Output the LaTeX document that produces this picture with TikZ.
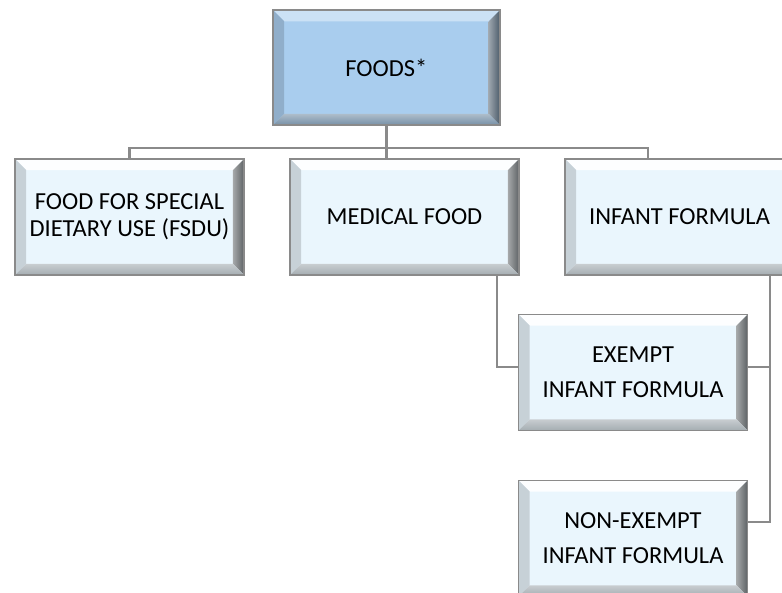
\documentclass[tikz,border=0pt]{standalone}
\usepackage{fontspec}
\setmainfont{Carlito}
\usepackage{tikz}
\usetikzlibrary{positioning,calc}
\definecolor{linegray}{HTML}{8A8A8A}
\definecolor{rootfill}{HTML}{A9CDEE}
\definecolor{leaffill}{HTML}{EAF6FD}
\tikzset{
  bevel/.style n args={4}{path picture={
    \fill[#1] (path picture bounding box.north west) -- (path picture bounding box.north east)
      -- ([shift={(-0.28,-0.28)}]path picture bounding box.north east)
      -- ([shift={(0.28,-0.28)}]path picture bounding box.north west) -- cycle;
    \fill[#2] (path picture bounding box.north west) -- ([shift={(0.28,-0.28)}]path picture bounding box.north west)
      -- ([shift={(0.28,0.28)}]path picture bounding box.south west) -- (path picture bounding box.south west) -- cycle;
    \shade[left color=#3!55, right color=#3] (path picture bounding box.north east) -- (path picture bounding box.south east)
      -- ([shift={(-0.28,0.28)}]path picture bounding box.south east)
      -- ([shift={(-0.28,-0.28)}]path picture bounding box.north east) -- cycle;
    \shade[top color=#4!60, bottom color=#4] (path picture bounding box.south west) -- ([shift={(0.28,0.28)}]path picture bounding box.south west)
      -- ([shift={(-0.28,0.28)}]path picture bounding box.south east) -- (path picture bounding box.south east) -- cycle;
  }},
  rootbox/.style={draw=linegray, line width=1pt, fill=rootfill, minimum width=5.675cm,
    minimum height=2.875cm, align=center, font=\fontsize{17.4}{19.4}\selectfont,
    bevel={rootfill!60!white}{rootfill!85!black}{rootfill!45!black}{rootfill!70!black}},
  leafbox/.style={draw=linegray, line width=1pt, fill=leaffill, minimum width=5.725cm,
    minimum height=2.9cm, align=center, font=\fontsize{17.4}{19.4}\selectfont,
    bevel={white!90!leaffill}{leaffill!85!black}{leaffill!40!black}{leaffill!70!black}},
  link/.style={draw=linegray, line width=1.8pt}
}
\begin{document}
\begin{tikzpicture}[line cap=rect]

    \useasboundingbox (0,0) rectangle (19.55,14.8);
    \clip (0,0) rectangle (19.55,14.8);

    \node[rootbox] (foods) at (9.66,13.11) {FOODS*};

    \node[leafbox] (fsdu) at (3.2375,9.375) {FOOD FOR SPECIAL\\DIETARY USE (FSDU)};
    \node[leafbox] (medical) at (10.1125,9.375) {MEDICAL FOOD};
    \node[leafbox] (infant) at (16.9875,9.375) {INFANT FORMULA};

    \node[leafbox] (exempt) at (15.825,5.4875) {EXEMPT\\[0.2cm]INFANT FORMULA};
    \node[leafbox] (nonexempt) at (15.825,1.3375) {NON-EXEMPT\\[0.2cm]INFANT FORMULA};

    % tie points
    \coordinate (bus) at ($(foods.south)+(0,-0.55)$);
    \coordinate (infanttop) at (16.2,10.825);
    \coordinate (medbot) at (12.425,7.925);
    \coordinate (infantbot) at (19.25,7.925);

    \draw[link] (foods.south) -- (bus);
    \draw[link] (fsdu.north) |- (bus) -| (infanttop);
    \draw[link] (bus) -- (bus |- medical.north);

    \draw[link] (medbot) |- ([yshift=0.14cm]exempt.west);
    \draw[link] (infantbot) |- ([yshift=0.14cm]exempt.east);
    \draw[link] (infantbot) |- ([yshift=0.41cm]nonexempt.east);

\end{tikzpicture}
\end{document}
